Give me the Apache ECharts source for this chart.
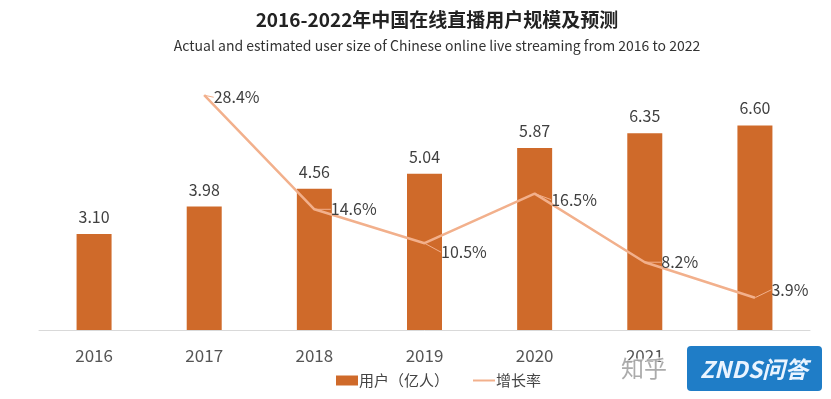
<!DOCTYPE html>
<html>
<head>
<meta charset="utf-8">
<script src="https://cdn.jsdelivr.net/npm/echarts@6/dist/echarts.min.js"></script>
<style>
  html, body { margin: 0; padding: 0; background: #fff; }
  #main { width: 831px; height: 399px; }
</style>
</head>
<body>
<div id="main"></div>
<script>
// 年份
const years = ['2016', '2017', '2018', '2019', '2020', '2021', '2022']
// 用户规模（亿人）
const users = [3.10, 3.98, 4.56, 5.04, 5.87, 6.35, 6.60]
// 增长率（%），2016 无数据
const growth = [null, 28.4, 14.6, 10.5, 16.5, 8.2, 3.9]

const chart = echarts.init(document.getElementById('main'))

const option = {
  backgroundColor: '#fff',
  animation: false,
  legend: {
    left: 331,
    top: 368,
    itemGap: 24,
    itemWidth: 22,
    itemHeight: 10,
    textStyle: { fontFamily: 'Noto Sans CJK SC', fontSize: 15, color: '#444', padding: [0, 0, 0, -4] },
    data: [
      { name: '用户（亿人）', icon: 'rect' },
      { name: '增长率', icon: 'path://M0,0h22v2h-22z', itemStyle: { color: '#F2B08C' } }
    ]
  },
  grid: {
    left: 39,
    right: 21,
    top: 82,
    bottom: 69
  },
  xAxis: {
    type: 'category',
    data: years,
    axisLine: { lineStyle: { color: '#d9d9d9', width: 1 } },
    axisTick: { show: false },
    axisLabel: {
      margin: 17,
      fontFamily: 'Noto Sans CJK SC',
      fontSize: 17,
      color: '#555'
    }
  },
  yAxis: [
    { type: 'value', min: 0, max: 8, show: false, splitLine: { show: false } },
    { type: 'value', min: 0, max: 30, show: false, splitLine: { show: false } }
  ],
  series: [
    {
      name: '用户（亿人）',
      type: 'bar',
      data: users,
      barWidth: 35,
      itemStyle: { color: '#CF6A2A' },
      label: {
        show: true,
        position: 'top',
        distance: 9,
        fontFamily: 'Noto Sans CJK SC',
        fontSize: 16,
        color: '#404040',
        formatter: p => p.value.toFixed(2)
      }
    },
    {
      name: '增长率',
      type: 'line',
      yAxisIndex: 1,
      data: growth,
      symbol: 'circle',
      symbolSize: 1,
      showSymbol: true,
      lineStyle: { color: '#F2B08C', width: 2.5 },
      itemStyle: { color: '#F2B08C' },
      label: {
        show: true,
        position: 'right',
        distance: 16,
        fontFamily: 'Noto Sans CJK SC',
        fontSize: 16,
        color: '#404040',
        formatter: p => p.value.toFixed(1) + '%'
      },
      labelLine: {
        show: true,
        smooth: 0.3,
        lineStyle: { color: '#F2B08C', width: 1 }
      },
      labelLayout: p => {
        // 细调标签位置
        const dx = [0, -7, 0, 0, 0, 0, 0][p.dataIndex] || 0
        const dy = [0, 2, 0, 9, 6, 0, -8][p.dataIndex] || 0
        return { dx: dx, dy: dy }
      }
    }
  ],
  graphic: [
    {
      type: 'text',
      x: 437,
      y: 20,
      style: {
        text: '2016-2022年中国在线直播用户规模及预测',
        align: 'center',
        verticalAlign: 'middle',
        fontFamily: 'Noto Sans CJK SC',
        fontSize: 19,
        fontWeight: 'bold',
        fill: '#222'
      }
    },
    {
      type: 'text',
      x: 437,
      y: 46,
      style: {
        text: 'Actual and estimated user size of Chinese online live streaming from 2016 to 2022',
        align: 'center',
        verticalAlign: 'middle',
        fontFamily: 'Noto Sans CJK SC',
        fontSize: 14,
        fill: '#333'
      }
    },
    {
      type: 'text',
      left: 620,
      top: 356,
      z: 100,
      style: {
        text: '知乎',
        fontFamily: 'Noto Sans CJK SC',
        fontSize: 23,
        fill: 'rgba(150,150,150,0.8)',
        stroke: 'rgba(255,255,255,0.7)',
        lineWidth: 2
      }
    },
    {
      type: 'rect',
      left: 687,
      top: 346,
      z: 100,
      shape: { width: 135, height: 45, r: 4 },
      style: { fill: '#1F7DC7' }
    },
    {
      type: 'text',
      x: 754,
      y: 369,
      z: 101,
      style: {
        text: 'ZNDS问答',
        align: 'center',
        verticalAlign: 'middle',
        fontFamily: 'Noto Sans CJK SC',
        fontSize: 23,
        fontWeight: 'bold',
        fontStyle: 'italic',
        fill: '#EAF4FF'
      }
    }
  ]
}

chart.setOption(option)
</script>
</body>
</html>
